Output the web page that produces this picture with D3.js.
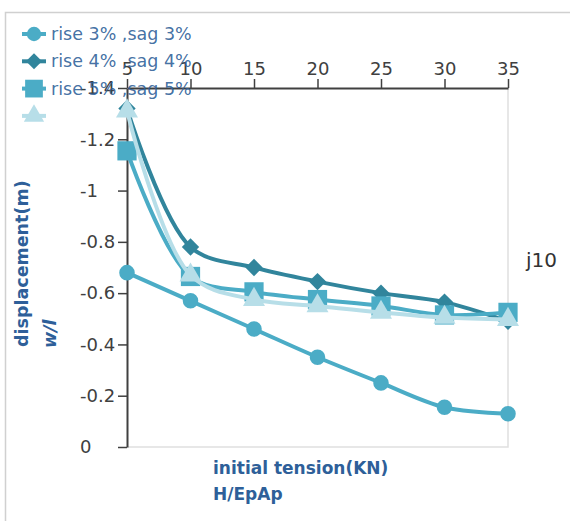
<html>
<head>
<script src="https://d3js.org/d3.v7.min.js"></script>
<style>
  body { margin: 0; background: white; }
  text { font-family: 'DejaVu Sans', sans-serif; }
</style>
</head>
<body>
<script>

// chart values
var tensions = [5, 10, 15, 20, 25, 30, 35];
var rise3 = [-0.68, -0.57, -0.46, -0.35, -0.25, -0.155, -0.13];
var rise4 = [-1.32, -0.78, -0.70, -0.645, -0.60, -0.565, -0.49];
var rise5 = [-1.155, -0.665, -0.605, -0.575, -0.55, -0.515, -0.525];
var rise6 = [-1.31, -0.67, -0.575, -0.55, -0.525, -0.505, -0.497];
var seriesNames = ['rise 3% ,sag 3%', 'rise 4% ,sag 4%', 'rise 5% ,sag 5%', ''];
var yTicks = [0, -0.2, -0.4, -0.6, -0.8, -1, -1.2, -1.4];
var xTicks = [5, 10, 15, 20, 25, 30, 35];

var W = 570, H = 521;

var svg = d3.select('body').append('svg')
    .attr('width', W)
    .attr('height', H);

// outer chart border
svg.append('rect')
    .attr('x', 5.5).attr('y', 12.5)
    .attr('width', 600).attr('height', 600)
    .attr('fill', 'none')
    .attr('stroke', '#d0d0d0')
    .attr('stroke-width', 1.5);

var x = d3.scaleLinear().domain([5, 35]).range([127, 508]);
var y = d3.scaleLinear().domain([0, -1.4]).range([447, 88]);

// plot area border (right and bottom)
svg.append('path')
    .attr('d', 'M' + x(35) + ',' + y(-1.4) + 'V' + y(0) + 'H' + x(5))
    .attr('fill', 'none')
    .attr('stroke', '#e0e0e0')
    .attr('stroke-width', 1.5);

// axes
var xAxis = svg.append('g')
    .attr('transform', 'translate(0,' + y(-1.4) + ')')
    .call(d3.axisTop(x).tickValues(xTicks).tickSize(9).tickSizeOuter(0));

var yAxis = svg.append('g')
    .attr('transform', 'translate(' + x(5) + ',0)')
    .call(d3.axisLeft(y).tickValues(yTicks).tickSize(9).tickSizeOuter(0)
        .tickFormat(function(d) { return d === 0 ? '0' : String(d); }));

[xAxis, yAxis].forEach(function(a) {
    a.select('.domain').attr('stroke', '#404040').attr('stroke-width', 2);
    a.selectAll('.tick line').attr('stroke', '#404040').attr('stroke-width', 1.5);
    a.selectAll('.tick text')
        .attr('fill', '#404040')
        .style('font-size', '18px')
        .style('font-family', "'DejaVu Sans', sans-serif");
});
xAxis.selectAll('.tick text').attr('dy', '-0.05em');
// y labels sit left-aligned in this chart
yAxis.selectAll('.tick text').attr('x', -47).attr('text-anchor', 'start');

// series
var colors = ['#4bacc6', '#31859c', '#4bacc6', '#b7dee8'];
var shapes = [d3.symbolCircle, d3.symbolSquare, d3.symbolSquare, d3.symbolTriangle];
var sizes = [190, 150, 370, 210];
var turns = [0, 45, 0, 0];
var allSeries = [rise3, rise4, rise5, rise6];

var line = d3.line()
    .x(function(d, i) { return x(tensions[i]); })
    .y(function(d) { return y(d); })
    .curve(d3.curveCatmullRom.alpha(0.5));

allSeries.forEach(function(s, k) {
    var g = svg.append('g');
    g.append('path')
        .datum(s)
        .attr('d', line)
        .attr('fill', 'none')
        .attr('stroke', colors[k])
        .attr('stroke-width', 4)
        .attr('stroke-linejoin', 'round');
    g.selectAll('path.mark')
        .data(s)
        .enter().append('path')
        .attr('class', 'mark')
        .attr('d', d3.symbol().type(shapes[k]).size(sizes[k]))
        .attr('transform', function(d, i) {
            return 'translate(' + x(tensions[i]) + ',' + y(d) + ') rotate(' + turns[k] + ')';
        })
        .attr('fill', colors[k]);
});

// axis titles
var titleColor = '#2e5f99';
svg.append('text')
    .attr('transform', 'translate(28,347) rotate(-90)')
    .attr('fill', titleColor)
    .style('font-size', '17.5px')
    .style('font-weight', 'bold')
    .text('displacement(m)');
svg.append('text')
    .attr('transform', 'translate(56,348) rotate(-90)')
    .attr('fill', titleColor)
    .style('font-size', '17.5px')
    .style('font-weight', 'bold')
    .style('font-style', 'italic')
    .text('w/l');

svg.append('text')
    .attr('x', 213).attr('y', 474)
    .attr('fill', titleColor)
    .style('font-size', '17px')
    .style('font-weight', 'bold')
    .text('initial tension(KN)');
svg.append('text')
    .attr('x', 213).attr('y', 500)
    .attr('fill', titleColor)
    .style('font-size', '17px')
    .style('font-weight', 'bold')
    .text('H/EpAp');

svg.append('text')
    .attr('x', 526).attr('y', 267)
    .attr('fill', '#333')
    .style('font-size', '20px')
    .text('j10');

// legend
var legend = svg.append('g');
seriesNames.forEach(function(name, k) {
    var ly = 34 + k * 27.3;
    legend.append('line')
        .attr('x1', 22).attr('x2', 46)
        .attr('y1', ly).attr('y2', ly)
        .attr('stroke', colors[k])
        .attr('stroke-width', 4);
    legend.append('path')
        .attr('d', d3.symbol().type(shapes[k]).size(sizes[k] * 0.85))
        .attr('transform', 'translate(34,' + ly + ') rotate(' + turns[k] + ')')
        .attr('fill', colors[k]);
    legend.append('text')
        .attr('x', 51).attr('y', ly + 6)
        .attr('fill', titleColor)
        .attr('fill-opacity', 0.9)
        .style('font-size', '17.5px')
        .text(name);
});

</script>
</body>
</html>
